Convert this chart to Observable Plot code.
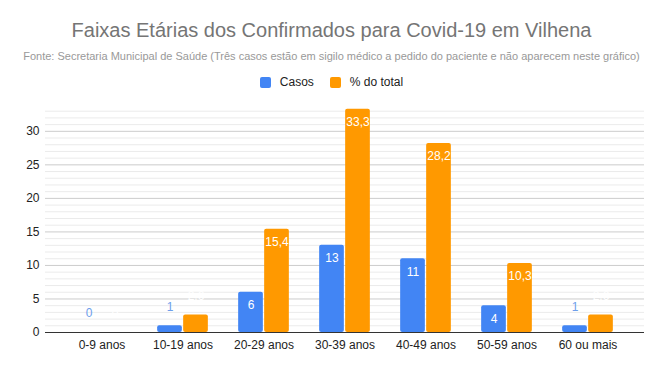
<!DOCTYPE html>
<html>
<head>
<meta charset="utf-8">
<script src="https://cdn.jsdelivr.net/npm/d3@7"></script>
<script src="https://cdn.jsdelivr.net/npm/@observablehq/plot@0.6"></script>
<style>
  html, body { margin: 0; padding: 0; background: #fff; }
  body { width: 663px; font-family: "Liberation Sans", Arial, sans-serif; }
  #header { position: relative; height: 95px; width: 663px; }
  #title { position: absolute; left: 0; right: 0; top: 19px; text-align: center; font-size: 20px; color: #757575; white-space: nowrap; }
  #subtitle { position: absolute; left: 0; right: 0; top: 50px; text-align: center; font-size: 11px; color: #999; white-space: nowrap; }
  #legend { position: absolute; left: 0; right: 0; top: 75px; display: flex; justify-content: center; align-items: center; font-size: 12px; color: #222; }
  .item { display: flex; align-items: center; margin: 0 8px; }
  .sw { width: 11px; height: 11px; border-radius: 2px; margin-right: 9px; }
</style>
</head>
<body>
<div id="header">
  <div id="title"></div>
  <div id="subtitle"></div>
  <div id="legend"></div>
</div>
<div id="chart"></div>
<script>
const titleText = "Faixas Etárias dos Confirmados para Covid-19 em Vilhena";
const subtitleText = "Fonte: Secretaria Municipal de Saúde (Três casos estão em sigilo médico a pedido do paciente e não aparecem neste gráfico)";
const groups = ["0-9 anos", "10-19 anos", "20-29 anos", "30-39 anos", "40-49 anos", "50-59 anos", "60 ou mais"];
const seriesNames = ["Casos", "% do total"];
const casos = [0, 1, 6, 13, 11, 4, 1];
const pctTotal = [0, 2.6, 15.4, 33.3, 28.2, 10.3, 2.6];
const yTicks = [0, 5, 10, 15, 20, 25, 30];
const colors = ["#4285F4", "#FF9900"];

document.getElementById("title").textContent = titleText;
document.getElementById("subtitle").textContent = subtitleText;
const legend = document.getElementById("legend");
seriesNames.forEach((s, i) => {
  const it = document.createElement("div");
  it.className = "item";
  const sw = document.createElement("div");
  sw.className = "sw";
  sw.style.background = colors[i];
  const lab = document.createElement("span");
  lab.textContent = s;
  it.appendChild(sw);
  it.appendChild(lab);
  legend.appendChild(it);
});

const fmt = v => String(v).replace(".", ",");
const rowsCasos = groups.map((g, i) => ({group: g, value: casos[i], label: fmt(casos[i])}));
const rowsPct = groups.map((g, i) => ({group: g, value: pctTotal[i], label: fmt(pctTotal[i])}));
const minorGrid = d3.range(1, 34).filter(v => v % 5 !== 0);
const majorGrid = yTicks.filter(v => v > 0);
const inside = d => d.value >= 3;
const outside = d => d.value < 3;

const chart = Plot.plot({
  width: 663,
  height: 276,
  marginTop: 9,
  marginBottom: 39,
  marginLeft: 45,
  marginRight: 19,
  style: {fontFamily: "'Liberation Sans', Arial, sans-serif", fontSize: "12px", color: "#222", background: "#fff"},
  x: {domain: groups, paddingInner: 0, paddingOuter: 0.184, label: null},
  y: {domain: [0, 34], label: null},
  marks: [
    Plot.ruleY(minorGrid, {stroke: "#ebebeb", strokeWidth: 1}),
    Plot.ruleY(majorGrid, {stroke: "#cccccc", strokeWidth: 1}),
    Plot.axisY({ticks: yTicks, tickSize: 0, tickPadding: 6, label: null, fontSize: 12}),
    Plot.axisX({tickSize: 0, tickPadding: 8, label: null, fontSize: 12}),
    Plot.barY(rowsCasos, {x: "group", y: "value", fill: colors[0], insetLeft: 15.15, insetRight: 41.15, rx: 2}),
    Plot.barY(rowsPct, {x: "group", y: "value", fill: colors[1], insetLeft: 41.15, insetRight: 15.15, rx: 2}),
    Plot.ruleY([0], {stroke: "#333", strokeWidth: 1}),
    Plot.text(rowsCasos.filter(inside), {x: "group", y: "value", text: "label", dx: -13, dy: 13, fill: "#fff", fontSize: 12}),
    Plot.text(rowsCasos.filter(outside), {x: "group", y: "value", text: "label", dx: -13, dy: -19, fill: "#6d9eeb", fontSize: 12}),
    Plot.text(rowsPct.filter(inside), {x: "group", y: "value", text: "label", dx: 13, dy: 13, fill: "#fff", fontSize: 12}),
    Plot.text(rowsPct.filter(outside), {x: "group", y: "value", text: "label", dx: 13, dy: -19, fill: "#fff", fontSize: 12})
  ]
});
document.getElementById("chart").appendChild(chart);
</script>
</body>
</html>
